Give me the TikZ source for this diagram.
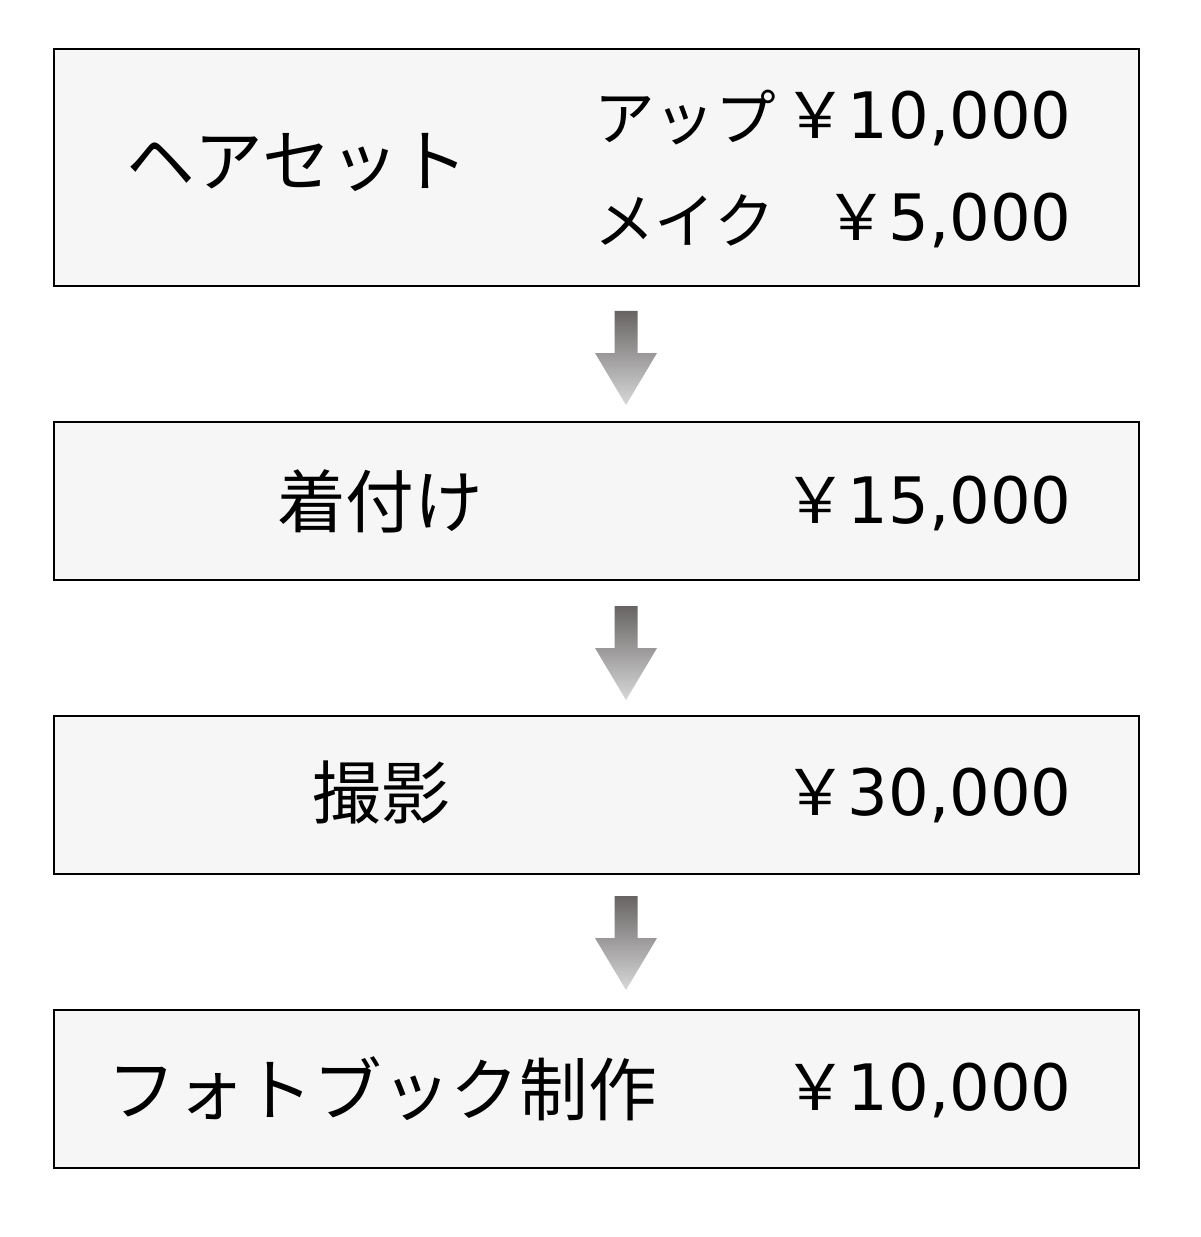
\documentclass[tikz,border=0pt]{standalone}
\usepackage{fontspec}
\setmainfont{DejaVu Sans}
\newfontfamily\jp{Noto Sans CJK JP}
\newcommand{\J}{\jp\fontsize{51.5pt}{60pt}\selectfont}
\newcommand{\Js}{\jp\fontsize{45.5pt}{54pt}\selectfont}
\usetikzlibrary{calc}
\definecolor{boxfill}{HTML}{F6F6F6}
\definecolor{arrtop}{HTML}{686464}
\definecolor{arrbot}{HTML}{D8D8D8}
\tikzset{
  x=0.75pt, y=-0.75pt,
  stepbox/.style={draw=black, line width=1.8pt, fill=boxfill},
  txt/.style={inner sep=0pt, font=\fontsize{48pt}{58pt}\selectfont},
  arrowshape/.style={top color=arrtop, bottom color=arrbot, draw=none}
}
\newcommand{\downarrowat}[1]{%
  \begin{scope}[shift={(#1)}]
    \path[arrowshape] (-11.5,0) -- (11.5,0) -- (11.5,42) -- (31,42) -- (0,94) -- (-31,42) -- (-11.5,42) -- cycle;
  \end{scope}}
\begin{document}
\begin{tikzpicture}
\useasboundingbox[fill=white] (0,0) rectangle (1200,1237);
% boxes
\path[stepbox] (54,49) rectangle (1139,286);
\coordinate (b1s) at (596.5,286);
\path[stepbox] (54,422) rectangle (1139,580);
\coordinate (b2n) at (596.5,422); \coordinate (b2s) at (596.5,580);
\path[stepbox] (54,716) rectangle (1139,874);
\coordinate (b3n) at (596.5,716); \coordinate (b3s) at (596.5,874);
\path[stepbox] (54,1010) rectangle (1139,1168);
\coordinate (b4n) at (596.5,1010);
% texts box 1
\node[txt] (t1) at (297,163) {\J ヘアセット};
\node[txt, anchor=west] (t1a) at (594,118) {\Js アップ};
\node[txt, anchor=east] (p1a) at (1072,118) {{\jp ￥}10,000};
\node[txt, anchor=west] (t1b) at (594,220) {\Js メイク};
\node[txt, anchor=east] (p1b) at (1072,220) {{\jp ￥}5,000};
% box 2
\node[txt] (t2) at (380,501) {\J 着付け};
\node[txt, anchor=east] (p2) at (1072,503) {{\jp ￥}15,000};
% box 3
\node[txt] (t3) at (381,792) {\J 撮影};
\node[txt, anchor=east] (p3) at (1072,795) {{\jp ￥}30,000};
% box 4
\node[txt] (t4) at (382,1089) {\J フォトブック制作};
\node[txt, anchor=east] (p4) at (1072,1090) {{\jp ￥}10,000};
% arrows
\coordinate (a1) at ($(b1s)+(29.5,25)$);
\coordinate (a2) at ($(b2s)+(29.5,26)$);
\coordinate (a3) at ($(b3s)+(29.5,22)$);
\downarrowat{a1}
\downarrowat{a2}
\downarrowat{a3}
\end{tikzpicture}
\end{document}
